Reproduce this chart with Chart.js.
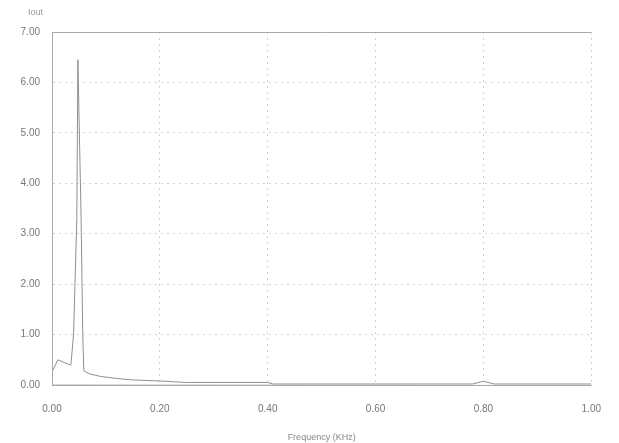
<!DOCTYPE html>
<html>
<head>
<meta charset="utf-8">
<script src="https://cdn.jsdelivr.net/npm/chart.js@4"></script>
<style>
  html, body { margin: 0; padding: 0; background: #fff; }
  #wrap { width: 619px; height: 443px; }
</style>
</head>
<body>
<div id="wrap"><canvas id="myChart"></canvas></div>
<script>
// spectrum (frequency in kHz, Iout)
const freq = [0.000, 0.011, 0.033, 0.035, 0.040, 0.046, 0.048, 0.054, 0.057, 0.059,
  0.070, 0.090, 0.120, 0.150, 0.200, 0.250, 0.400, 0.410, 0.780, 0.795, 0.800, 0.805, 0.820, 1.000];
const iout = [0.26, 0.50, 0.40, 0.40, 1.00, 3.30, 6.45, 3.30, 1.00, 0.28,
  0.22, 0.17, 0.13, 0.10, 0.08, 0.05, 0.05, 0.02, 0.02, 0.06, 0.07, 0.06, 0.02, 0.02];

const xTicks = [0, 0.2, 0.4, 0.6, 0.8, 1.0];
const yTicks = [0, 1, 2, 3, 4, 5, 6, 7];

const points = freq.map((f, i) => ({ x: f, y: iout[i] }));

const labelColor = '#777';
const font = { family: 'Liberation Sans', size: 10 };

// y-axis name above the axis, solid top edge, solid left/bottom axes
const extras = {
  id: 'extras',
  afterDraw(chart) {
    const { ctx, chartArea } = chart;
    ctx.save();
    ctx.strokeStyle = '#aaa';
    ctx.lineWidth = 1;
    ctx.beginPath();
    ctx.moveTo(chartArea.left, chartArea.top + 0.5);
    ctx.lineTo(chartArea.right, chartArea.top + 0.5);
    ctx.moveTo(chartArea.left + 0.5, chartArea.top);
    ctx.lineTo(chartArea.left + 0.5, chartArea.bottom);
    ctx.lineTo(chartArea.right, chartArea.bottom + 0.5);
    ctx.stroke();
    ctx.fillStyle = '#999';
    ctx.font = '9px "Liberation Sans"';
    ctx.textAlign = 'left';
    ctx.textBaseline = 'middle';
    ctx.fillText('Iout', 28, 13);
    ctx.restore();
  }
};

new Chart(document.getElementById('myChart'), {
  type: 'scatter',
  data: {
    datasets: [{
      data: points,
      showLine: true,
      borderColor: '#909090',
      borderWidth: 1,
      pointRadius: 0,
      tension: 0
    }]
  },
  options: {
    responsive: true,
    maintainAspectRatio: false,
    animation: false,
    layout: { padding: { top: 32, right: 27, left: 0, bottom: 0 } },
    plugins: {
      legend: { display: false },
      tooltip: { enabled: false }
    },
    scales: {
      x: {
        type: 'linear',
        min: 0, max: 1,
        afterBuildTicks: (s) => { s.ticks = xTicks.map(v => ({ value: v })); },
        afterFit: (s) => { s.height = 58; },
        ticks: {
          color: labelColor, font: font, padding: 18, maxRotation: 0,
          callback: (v) => Number(v).toFixed(2)
        },
        grid: { color: '#d2d2d2', drawTicks: false },
        border: { color: '#aaa', dash: [2, 4] },
        title: { display: true, text: 'Frequency (KHz)', color: '#888', font: { family: 'Liberation Sans', size: 9 }, padding: { top: 8, bottom: 0 } }
      },
      y: {
        min: 0, max: 7,
        afterBuildTicks: (s) => { s.ticks = yTicks.map(v => ({ value: v })); },
        afterFit: (s) => { s.width = 52; },
        ticks: {
          color: labelColor, font: font, padding: 12,
          callback: (v) => Number(v).toFixed(2)
        },
        grid: { color: '#d2d2d2', drawTicks: false },
        border: { color: '#aaa', dash: [2, 4] }
      }
    }
  },
  plugins: [extras]
});
</script>
</body>
</html>
